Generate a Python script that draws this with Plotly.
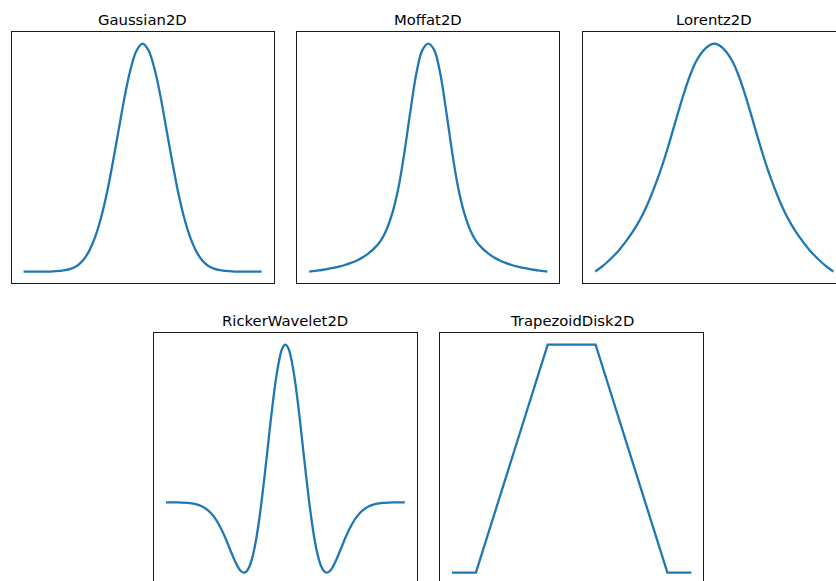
import plotly.graph_objects as go

# ---------------- data ----------------
x_grid = [-5.0, -4.75, -4.5, -4.25, -4.0, -3.75, -3.5, -3.25, -3.0, -2.75,
          -2.5, -2.25, -2.0, -1.75, -1.5, -1.25, -1.0, -0.75, -0.5, -0.25,
          0.0, 0.25, 0.5, 0.75, 1.0, 1.25, 1.5, 1.75, 2.0, 2.25,
          2.5, 2.75, 3.0, 3.25, 3.5, 3.75, 4.0, 4.25, 4.5, 4.75, 5.0]

gaussian = [0, 0, 0, 0, 0, 0.001, 0.003, 0.006, 0.013, 0.026,
            0.05, 0.09, 0.15, 0.235, 0.345, 0.48, 0.625, 0.77, 0.89, 0.97,
            1.0, 0.97, 0.89, 0.77, 0.625, 0.48, 0.345, 0.235, 0.15, 0.09,
            0.05, 0.026, 0.013, 0.006, 0.003, 0.001, 0, 0, 0, 0, 0]

moffat = [0.0, 0.003, 0.007, 0.011, 0.016, 0.022, 0.029, 0.038, 0.049, 0.063,
          0.081, 0.104, 0.135, 0.185, 0.26, 0.37, 0.525, 0.705, 0.87, 0.972,
          1.0, 0.972, 0.87, 0.705, 0.525, 0.37, 0.26, 0.185, 0.135, 0.104,
          0.081, 0.063, 0.049, 0.038, 0.029, 0.022, 0.016, 0.011, 0.007, 0.003, 0.0]

lorentz = [0.0, 0.019, 0.041, 0.066, 0.094, 0.127, 0.163, 0.204, 0.252, 0.309,
           0.374, 0.446, 0.527, 0.615, 0.705, 0.791, 0.866, 0.925, 0.965, 0.99,
           1.0, 0.99, 0.965, 0.925, 0.866, 0.791, 0.705, 0.615, 0.527, 0.446,
           0.374, 0.309, 0.252, 0.204, 0.163, 0.127, 0.094, 0.066, 0.041, 0.019, 0.0]

ricker_x = [-5.0, -4.5, -4.0, -3.75, -3.5, -3.25, -3.0, -2.75, -2.5, -2.375,
            -2.25, -2.125, -2.0, -1.875, -1.75, -1.625, -1.5, -1.375, -1.25, -1.125,
            -1.0, -0.875, -0.75, -0.625, -0.5, -0.375, -0.25, -0.125, 0.0,
            0.125, 0.25, 0.375, 0.5, 0.625, 0.75, 0.875, 1.0,
            1.125, 1.25, 1.375, 1.5, 1.625, 1.75, 1.875, 2.0, 2.125, 2.25,
            2.375, 2.5, 2.75, 3.0, 3.25, 3.5, 3.75, 4.0, 4.5, 5.0]
ricker = [0.0, -0.001, -0.005, -0.011, -0.025, -0.05, -0.089, -0.15, -0.23, -0.277,
          -0.323, -0.368, -0.406, -0.434, -0.446, -0.438, -0.406, -0.346, -0.258, -0.141,
          0.0, 0.160, 0.330, 0.501, 0.662, 0.801, 0.908, 0.977, 1.0,
          0.977, 0.908, 0.801, 0.662, 0.501, 0.330, 0.160, 0.0,
          -0.141, -0.258, -0.346, -0.406, -0.438, -0.446, -0.434, -0.406, -0.368, -0.323,
          -0.277, -0.23, -0.15, -0.089, -0.05, -0.025, -0.011, -0.005, -0.001, 0.0]

trap_x = [-5.0, -4.0, -1.0, 1.0, 4.0, 5.0]
trap_y = [0, 0, 1, 1, 0, 0]

titles = ["Gaussian2D", "Moffat2D", "Lorentz2D", "RickerWavelet2D", "TrapezoidDisk2D"]

# ---------------- layout helpers ----------------
W, H = 836, 581
LINE_COLOR = "#1f77b4"
FRAME = "#1a1a1a"

# panel boxes in pixels: (left, right, top, bottom)
boxes = [
    (11.7, 273.5, 32.3, 283.0),
    (297.3, 559.3, 32.3, 283.0),
    (583.3, 845.3, 32.3, 283.0),
    (154.0, 416.7, 333.3, 584.0),
    (440.0, 703.3, 333.3, 584.0),
]
title_y = [19.5, 19.5, 19.5, 320.5, 320.5]

series = [
    (x_grid, gaussian, "spline"),
    (x_grid, moffat, "spline"),
    (x_grid, lorentz, "spline"),
    (ricker_x, ricker, "spline"),
    (trap_x, trap_y, "linear"),
]

fig = go.Figure()
annotations = []
layout = {}

for i, ((xs, ys, shape), (l, r, t, b), name, ty) in enumerate(zip(series, boxes, titles, title_y)):
    k = "" if i == 0 else str(i + 1)
    xa, ya = "x" + k, "y" + k

    fig.add_trace(go.Scatter(
        x=xs, y=ys, mode="lines", xaxis=xa, yaxis=ya,
        line=dict(color=LINE_COLOR, width=2.3, shape=shape, smoothing=1.0),
        showlegend=False, hoverinfo="skip"))

    # matplotlib-like 5% margins
    x0, x1 = min(xs), max(xs)
    y0, y1 = min(ys), max(ys)
    sx, sy = x1 - x0, y1 - y0
    xr = [x0 - 0.05 * sx, x1 + 0.05 * sx]
    yr = [y0 - 0.05 * sy, y1 + 0.05 * sy]

    clip_right = r > W
    clip_bottom = b > H
    if clip_right:
        xr[1] = xr[0] + (W - l) / (r - l) * (xr[1] - xr[0])
    if clip_bottom:
        yr[0] = yr[1] - (H - t) / (b - t) * (yr[1] - yr[0])

    xdom = [max(0.0, l / W), min(1.0, r / W)]
    ydom = [max(0.0, 1 - b / H), min(1.0, 1 - t / H)]

    common = dict(showticklabels=False, ticks="", showgrid=False, zeroline=False,
                  showline=True, linecolor=FRAME, linewidth=1, fixedrange=True)
    xaxis = dict(domain=xdom, range=xr, anchor=ya, **common)
    yaxis = dict(domain=ydom, range=yr, anchor=xa, **common)
    if clip_bottom:
        xaxis.update(side="top", mirror=False)
    else:
        xaxis.update(mirror=True)
    if clip_right:
        yaxis.update(mirror=False)
    else:
        yaxis.update(mirror=True)

    layout["xaxis" + k] = xaxis
    layout["yaxis" + k] = yaxis

    annotations.append(dict(
        text=name, xref="paper", yref="paper",
        x=(l + r) / 2 / W, y=1 - ty / H, xanchor="center", yanchor="middle",
        showarrow=False, font=dict(family="DejaVu Sans", size=14.8, color="#000000")))

fig.update_layout(
    width=W, height=H,
    margin=dict(l=0, r=0, t=0, b=0),
    paper_bgcolor="white", plot_bgcolor="white",
    annotations=annotations,
    **layout)

fig.write_html("out.html")
